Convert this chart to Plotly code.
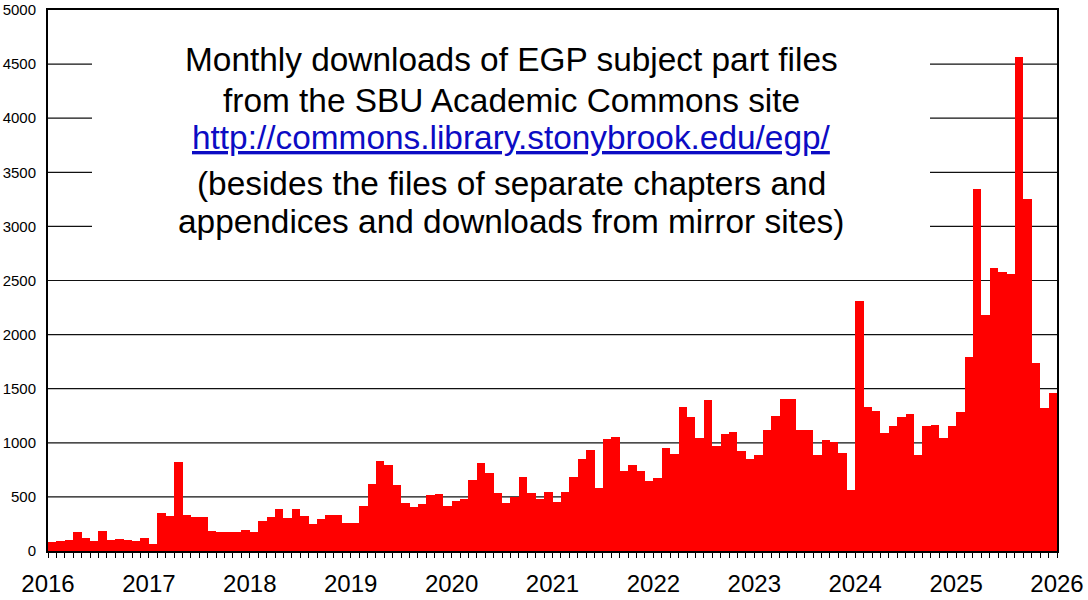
import plotly.graph_objects as go

years = list(range(2016, 2026))
downloads_2016 = [80, 93, 100, 173, 123, 93, 185, 100, 111, 100, 93, 123]
downloads_2017 = [65, 355, 324, 821, 336, 318, 318, 188, 176, 176, 176, 198]
downloads_2018 = [179, 281, 315, 389, 309, 389, 327, 250, 293, 336, 336, 262]
downloads_2019 = [262, 417, 617, 833, 799, 608, 441, 410, 432, 515, 525, 417]
downloads_2020 = [460, 485, 660, 810, 720, 540, 440, 500, 685, 534, 485, 549]
downloads_2021 = [457, 549, 685, 849, 932, 586, 1034, 1056, 741, 793, 741, 648]
downloads_2022 = [676, 951, 901, 1333, 1241, 1049, 1395, 972, 1080, 1096, 920, 849]
downloads_2023 = [885, 1117, 1250, 1404, 1404, 1120, 1120, 889, 1025, 1003, 907, 562]
downloads_2024 = [2309, 1333, 1296, 1091, 1152, 1241, 1265, 883, 1151, 1164, 1040, 1154]
downloads_2025 = [1287, 1790, 3345, 2185, 2617, 2580, 2556, 4570, 3250, 1735, 1321, 1460]

all_years = [downloads_2016, downloads_2017, downloads_2018, downloads_2019, downloads_2020,
             downloads_2021, downloads_2022, downloads_2023, downloads_2024, downloads_2025]

grid_values = [500, 1000, 1500, 2000, 2500, 3000, 3500, 4000, 4500]
# gridlines hidden behind the title block (only stubs visible at both sides)
hidden_grid = [3000, 3500, 4000, 4500]

x_vals, y_vals = [], []
for yr, vals in zip(years, all_years):
    for m, v in enumerate(vals):
        x_vals.append(yr + (m + 0.5) / 12)
        y_vals.append(v)

title_lines = [
    "Monthly downloads of EGP subject part files",
    "from the SBU Academic Commons site",
    "<u>http://commons.library.stonybrook.edu/egp/</u>",
    "(besides the files of separate chapters and",
    "appendices and downloads from mirror sites)",
]
title_colors = ["black", "black", "#0C0CC4", "black", "black"]
title_ypix = [60, 100, 137, 184, 222]

W, H = 1088, 600
L, R, T, B = 48, 31, 10, 49
plot_w = W - L - R
plot_h = H - T - B

fig = go.Figure()
fig.add_trace(go.Bar(
    x=x_vals, y=y_vals, width=1 / 12,
    marker=dict(color="#FF0000", line=dict(width=0)),
    hoverinfo="x+y",
))

gl = dict(color="#111111", width=1.2)
box_x0 = (92 - L) / plot_w
box_x1 = (930 - L) / plot_w
for g in grid_values:
    if g in hidden_grid:
        fig.add_shape(type="line", xref="paper", yref="y", x0=0, x1=box_x0, y0=g, y1=g,
                      line=gl, layer="below")
        fig.add_shape(type="line", xref="paper", yref="y", x0=box_x1, x1=1, y0=g, y1=g,
                      line=gl, layer="below")
    else:
        fig.add_shape(type="line", xref="paper", yref="y", x0=0, x1=1, y0=g, y1=g,
                      line=gl, layer="below")

for txt, col, yp in zip(title_lines, title_colors, title_ypix):
    fig.add_annotation(
        text=txt, xref="paper", yref="paper",
        x=(511 - L) / plot_w, y=(H - B - yp) / plot_h,
        xanchor="center", yanchor="middle", showarrow=False,
        font=dict(family="Liberation Sans, Arial", size=33.4, color=col),
    )

fig.update_layout(
    width=W, height=H,
    margin=dict(l=L, r=R, t=T, b=B, autoexpand=False),
    paper_bgcolor="white", plot_bgcolor="white",
    showlegend=False, bargap=0,
    font=dict(family="Liberation Sans, Arial", color="black"),
)
fig.update_xaxes(
    range=[2016, 2026], tickmode="linear", tick0=2016, dtick=1, tickformat="d",
    ticks="outside", ticklen=5, tickwidth=1, tickcolor="black",
    minor=dict(tickmode="linear", tick0=2016, dtick=1 / 12, ticks="outside",
               ticklen=5, tickwidth=1, tickcolor="black", showgrid=False),
    showgrid=False, zeroline=False, automargin=False,
    showline=True, linecolor="black", linewidth=1.5, mirror=True,
    tickfont=dict(family="Liberation Sans, Arial", size=24, color="black"),
    ticklabelstandoff=5,
)
fig.update_yaxes(
    range=[0, 5000], tickmode="linear", tick0=0, dtick=500,
    showgrid=False, zeroline=False, ticks="", automargin=False,
    showline=True, linecolor="black", linewidth=2, mirror=True,
    tickfont=dict(family="Liberation Sans, Arial", size=15, color="black"),
    ticklabelstandoff=7,
)

fig.write_html("out.html")
